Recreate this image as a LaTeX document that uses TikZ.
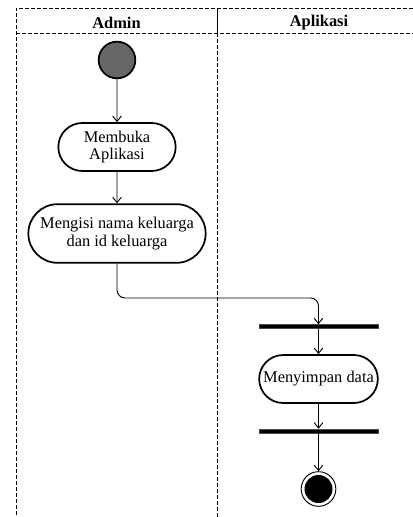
\documentclass[tikz,border=0pt]{standalone}
\usepackage{fontspec}
\setmainfont{Liberation Serif}
\usepackage{tikz}
\usetikzlibrary{shapes.misc, arrows.meta}

\tikzset{
  lane/.style={line width=0.7pt, dash pattern=on 3pt off 1.5pt},
  act/.style={rounded rectangle, draw, line width=1.3pt, align=center, inner xsep=1pt, font=\fontsize{12.3}{13}\selectfont},
  bar/.style={rectangle, fill=black, draw=black!70, inner sep=0pt, minimum width=89pt, minimum height=3pt},
  flow/.style={-{Straight Barb[length=4pt,width=6.5pt]}, line width=0.7pt},
  head/.style={font=\fontsize{12.3}{13}\selectfont\bfseries}
}

\begin{document}
\begin{tikzpicture}[x=0.75pt,y=-0.75pt]
\useasboundingbox (0,0) rectangle (413,517);

\draw[lane] (413,8) -- (16,8) -- (16,517);
\draw[lane] (16,33) -- (413,33);
\draw[line width=0.7pt] (217,8) -- (217,33);
\draw[lane] (217,33) -- (217,517);
\node[head] (admin) at (116.5,22.5) {Admin};
\node[head] (aplikasi) at (319,22.5) {Aplikasi};

\node[circle, draw, line width=1.3pt, fill=black!60, minimum size=27.5pt, inner sep=0pt] (start) at (117,60) {};
\node[act, minimum width=90pt, minimum height=36pt] (buka) at (117,147) {Membuka\\Aplikasi};
\node[act, minimum width=135pt, minimum height=44pt] (isi) at (117,233.5) {Mengisi nama keluarga\\dan id keluarga};
\coordinate (bend) at (318.5,298);
\node[bar] (bar1) at (318.5,326.5) {};
\node[act, minimum width=91pt, minimum height=36pt] (simpan) at (318.5,379) {Menyimpan data};
\node[bar] (bar2) at (318.5,431) {};
\node[circle, draw, line width=0.7pt, minimum size=26pt, inner sep=0pt,
  path picture={\fill (path picture bounding box.center) circle (10.5pt);}] (end) at (318.5,489) {};

\draw[flow] (start) -- (buka);
\draw[flow] (buka) -- (isi);
\draw[flow, rounded corners=6pt] (isi.south) |- (bend) -- (bar1.north);
\draw[flow] (bar1) -- (simpan);
\draw[flow] (simpan) -- (bar2);
\draw[flow] (bar2) -- (end);

\end{tikzpicture}
\end{document}
